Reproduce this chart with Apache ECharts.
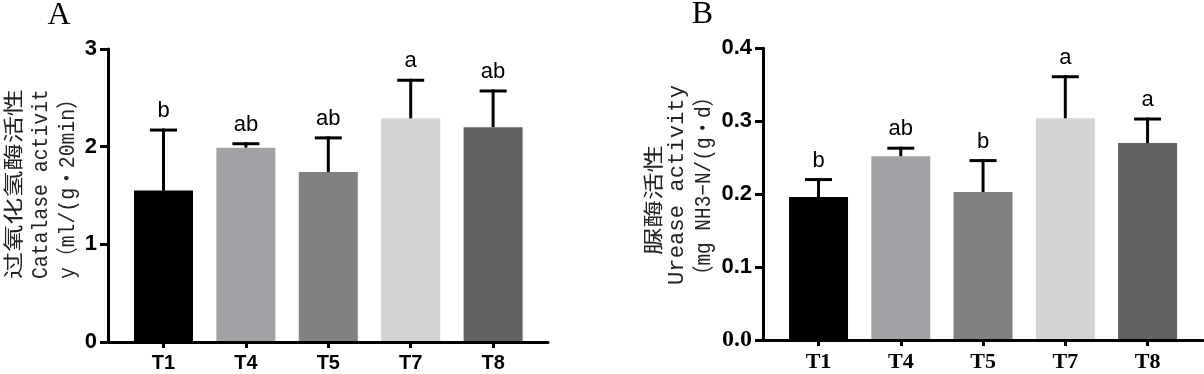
<!DOCTYPE html>
<html><head><meta charset="utf-8">
<script src="https://cdn.jsdelivr.net/npm/echarts@6/dist/echarts.min.js"></script>
<style>html,body{margin:0;padding:0;background:#fff}#c{width:1204px;height:374px}</style>
</head><body><div id="c"></div>
<script>
// ---- data ----
const categories = ['T1', 'T4', 'T5', 'T7', 'T8'];
const catalaseMean = [1.55, 1.99, 1.74, 2.29, 2.20];
const catalaseSD = [0.62, 0.04, 0.35, 0.39, 0.37];
const catalaseLetters = ['b', 'ab', 'ab', 'a', 'ab'];
const catalaseTicks = [0, 1, 2, 3];
const ureaseMean = [0.196, 0.252, 0.203, 0.304, 0.270];
const ureaseSD = [0.024, 0.011, 0.043, 0.057, 0.033];
const ureaseLetters = ['b', 'ab', 'b', 'a', 'a'];
const ureaseTicks = [0.0, 0.1, 0.2, 0.3, 0.4];
const barColors = ['#000000', '#a2a1a6', '#818181', '#d4d4d4', '#626262'];
const panelTitles = ['A', 'B'];
const catalaseTitle = ['过氧化氢酶活性', 'Catalase activit', 'y（ml/(g・20min）'];
const ureaseTitle = ['脲酶活性', 'Urease activity', '（mg NH3−N/(g・d）'];

// ---- helpers ----
const cvs = document.createElement('canvas').getContext('2d');
function measure(text, font) { cvs.font = font; return cvs.measureText(text).width; }
function vtext(text, font, cx, cy, len) {
  const w = measure(text, font);
  return { type: 'text', x: cx, y: cy, rotation: Math.PI / 2, scaleX: len / w,
    style: { text: text, font: font, textAlign: 'center', textVerticalAlign: 'middle', fill: '#222' } };
}
const cjkFont = "20px 'Noto Sans CJK SC'";
const monoFont = "22px 'Liberation Mono', 'Noto Sans CJK SC', monospace";

function outerAxes(gi, ticks, labelFmt) {
  const step = ticks[1] - ticks[0];
  return {
    x: { type: 'value', gridIndex: gi, min: 0, max: 1, z: 10,
      axisLine: { show: true, lineStyle: { color: '#000', width: 3 } },
      axisTick: { show: false }, axisLabel: { show: false }, splitLine: { show: false } },
    y: { type: 'value', gridIndex: gi, min: ticks[0], max: ticks[ticks.length - 1], interval: step, z: 10,
      axisLine: { show: true, lineStyle: { color: '#000', width: 3 } },
      axisTick: { show: true, length: 8, lineStyle: { color: '#000', width: 3 } },
      axisLabel: { color: '#000', fontFamily: 'Arial, Liberation Sans', fontWeight: 'bold', fontSize: 22, margin: 11,
        formatter: labelFmt.f, rich: labelFmt.rich },
      splitLine: { show: false } }
  };
}
function innerAxes(gi, ticks, labelFont, labelSize) {
  return {
    x: { type: 'category', gridIndex: gi, data: categories,
      axisLine: { show: false },
      axisTick: { show: true, alignWithLabel: true, length: 6, lineStyle: { color: '#000', width: 3 } },
      axisLabel: { color: '#000', fontFamily: labelFont, fontWeight: 'bold', fontSize: labelSize, margin: 11 } },
    y: { type: 'value', gridIndex: gi, min: ticks[0], max: ticks[ticks.length - 1], show: false }
  };
}
function barSeries(axisIdx, means) {
  return { type: 'bar', xAxisIndex: axisIdx, yAxisIndex: axisIdx, barWidth: 59, z: 2,
    data: means.map((v, i) => ({ value: v, itemStyle: { color: barColors[i] } })) };
}
function errSeries(axisIdx, means, sds, letters) {
  return { type: 'custom', xAxisIndex: axisIdx, yAxisIndex: axisIdx, z: 5,
    data: means.map((m, i) => [i, m, m + sds[i]]),
    renderItem: function (params, api) {
      const i = api.value(0);
      const base = api.coord([i, api.value(1)]);
      const top = api.coord([i, api.value(2)]);
      return { type: 'group', children: [
        { type: 'line', shape: { x1: top[0], y1: base[1], x2: top[0], y2: top[1] - 1.5 }, style: { stroke: '#000', lineWidth: 3 } },
        { type: 'line', shape: { x1: top[0] - 13.5, y1: top[1], x2: top[0] + 13.5, y2: top[1] }, style: { stroke: '#000', lineWidth: 3 } },
        { type: 'text', x: top[0], y: top[1] - 8,
          style: { text: letters[params.dataIndex], font: "22px Arial, 'Liberation Sans'", textAlign: 'center', textVerticalAlign: 'bottom', fill: '#000' } }
      ] };
    } };
}

const aOut = outerAxes(0, catalaseTicks, { f: v => String(v) });
const aIn = innerAxes(1, catalaseTicks, "Arial, 'Liberation Sans'", 20);
const bOut = outerAxes(2, ureaseTicks, {
  f: v => (Math.abs(v) < 1e-9 ? '{s|0.0}' : v.toFixed(1)),
  rich: { s: { fontFamily: 'Liberation Serif', fontWeight: 'bold', fontSize: 24, color: '#000' } } });
const bIn = innerAxes(3, ureaseTicks, "'Times New Roman', 'Liberation Serif'", 22);

const option = {
  animation: false,
  backgroundColor: '#fff',
  grid: [
    { left: 108, top: 49, width: 440, height: 293 },
    { left: 122.3, top: 49, width: 412, height: 293 },
    { left: 763, top: 48.3, width: 440, height: 291.7 },
    { left: 777.4, top: 48.3, width: 411.3, height: 291.7 }
  ],
  xAxis: [aOut.x, aIn.x, bOut.x, bIn.x],
  yAxis: [aOut.y, aIn.y, bOut.y, bIn.y],
  series: [
    barSeries(1, catalaseMean), errSeries(1, catalaseMean, catalaseSD, catalaseLetters),
    barSeries(3, ureaseMean), errSeries(3, ureaseMean, ureaseSD, ureaseLetters)
  ],
  graphic: [
    { type: 'text', x: 59, y: 16, style: { text: panelTitles[0], font: "32px 'Liberation Serif'", textAlign: 'center', textVerticalAlign: 'middle', fill: '#000' } },
    { type: 'text', x: 702.5, y: 15, style: { text: panelTitles[1], font: "32px 'Liberation Serif'", textAlign: 'center', textVerticalAlign: 'middle', fill: '#000' } },
    vtext(catalaseTitle[0], cjkFont, 13, 184, 190),
    vtext(catalaseTitle[1], monoFont, 41, 184, 190),
    vtext(catalaseTitle[2], monoFont, 68, 184, 190),
    vtext(ureaseTitle[0], cjkFont, 653, 200, 110),
    vtext(ureaseTitle[1], monoFont, 677, 185, 200),
    vtext(ureaseTitle[2], monoFont, 704, 186, 198)
  ]
};
const chart = echarts.init(document.getElementById('c'), null, { renderer: 'canvas' });
chart.setOption(option);
</script>
</body></html>
